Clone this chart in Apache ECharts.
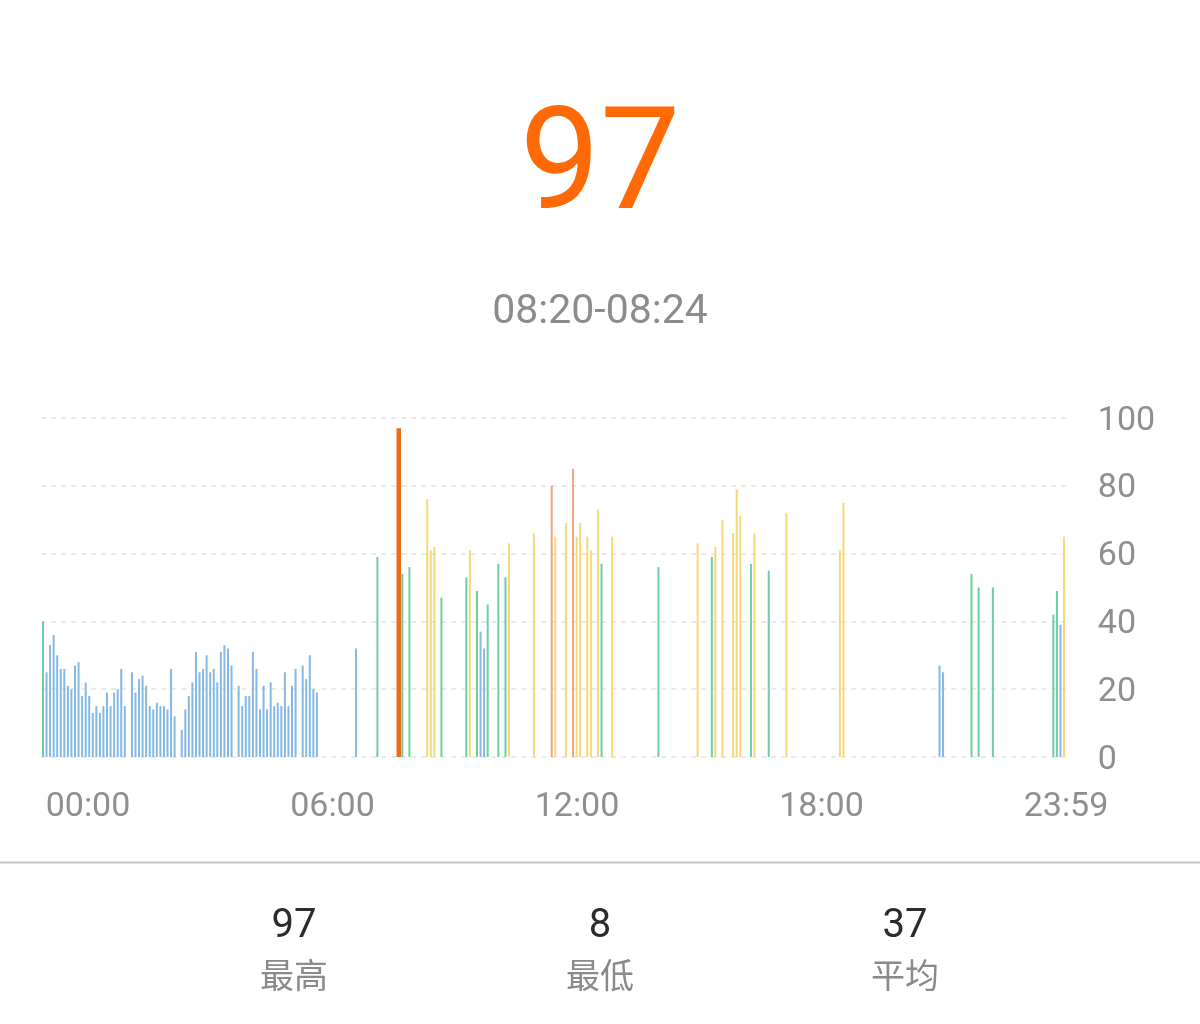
<!DOCTYPE html>
<html>
<head>
<meta charset="utf-8">
<style>
  html, body { margin: 0; padding: 0; background: #fff; }
  #chart { width: 1200px; height: 1024px; }
</style>
<script src="https://cdn.jsdelivr.net/npm/echarts@6/dist/echarts.min.js"></script>
</head>
<body>
<div id="chart"></div>
<script>
// 压力读数，每 5 分钟一格。夜间连续段从 00:00 开始，null 表示无读数
const nightValues = [
  40, 25, 33, 36, 30, 26, 26, 21, 20, 27, 28, 18, 22, 18, 13, 15, 13, 15, 19, 15, 19, 20, 26, 15,
  null, 25, 19, 23, 24, 21, 15, 14, 16, 15, 15, 14, 26, 12,
  null, 8, 14, 18, 22, 31, 25, 26, 30, 25, 26, 22, 31, 33, 32, 27,
  null, 21, 15, 18, 18, 31, 26, 14, 21, 14, 22, 15, 16, 15, 25, 15, 21, 26,
  null, 27, 23, 30, 20, 19,
];

// 白天零散读数
const dayTimes = [
  '07:20', '07:50', '08:20', '08:25', '08:35', '09:00', '09:05', '09:10', '09:20', '09:55',
  '10:00', '10:10', '10:15', '10:20', '10:25', '10:40', '10:50', '10:55', '11:30', '11:55',
  '12:00', '12:15', '12:25', '12:30', '12:35', '12:45', '12:50', '13:00', '13:05', '13:20',
  '14:25', '15:20', '15:40', '15:45', '15:55', '16:10', '16:15', '16:20', '16:35', '16:40',
  '17:00', '17:25', '18:40', '18:45', '21:00', '21:05', '21:45', '21:55', '22:15', '23:40',
  '23:45', '23:50', '23:55',
];
const dayValues = [
  32, 59, 97, 54, 56, 76, 61, 62, 47, 53,
  61, 49, 37, 32, 45, 57, 53, 63, 66, 80,
  65, 69, 85, 65, 69, 65, 61, 73, 57, 65,
  56, 63, 59, 62, 70, 66, 79, 71, 57, 66,
  55, 72, 61, 75, 27, 25, 54, 50, 50, 42,
  49, 39, 65,
];

const selectedTime = '08:20';
const axisTimeLabels = ['00:00', '06:00', '12:00', '18:00', '23:59'];
const statValues = [97, 8, 37];
const statLabels = ['最高', '最低', '平均'];

const FONT = "Roboto, 'Noto Sans CJK SC', sans-serif";

function pad(n) { return n.toString().padStart(2, '0'); }

// 288 个 5 分钟时间格
const slots = [];
for (let m = 0; m < 24 * 60; m += 5) slots.push(`${pad(Math.floor(m / 60))}:${pad(m % 60)}`);

const readings = slots.map(() => null);
nightValues.forEach((v, i) => { readings[i] = v; });
dayTimes.forEach((t, i) => { readings[slots.indexOf(t)] = dayValues[i]; });

function levelColor(v) {
  if (v < 40) return '#86b8e6';
  if (v < 60) return '#6ccf9f';
  if (v < 80) return '#f6d878';
  return '#f2a47c';
}

const selIdx = slots.indexOf(selectedTime);
const selValue = readings[selIdx];
const selEnd = (() => {
  const [h, m] = selectedTime.split(':').map(Number);
  const e = h * 60 + m + 4;
  return `${pad(Math.floor(e / 60))}:${pad(e % 60)}`;
})();

const normalData = readings.map((v, i) => {
  if (v == null || i === selIdx) return '-';
  return { value: v, itemStyle: { color: levelColor(v) } };
});
const selectedData = readings.map((v, i) => (i === selIdx ? v : '-'));

const chart = echarts.init(document.getElementById('chart'));

const statX = [294, 600, 905];
const graphics = [
  {
    type: 'text',
    style: { text: String(selValue), x: 600, y: 172, fill: '#ff6a06', font: `143px ${FONT}`, textAlign: 'center', textVerticalAlign: 'middle' },
  },
  {
    type: 'text',
    style: { text: `${selectedTime}-${selEnd}`, x: 600, y: 313, fill: '#8c8c8c', font: `41px ${FONT}`, textAlign: 'center', textVerticalAlign: 'middle' },
  },
  {
    type: 'line',
    shape: { x1: 0, y1: 862.5, x2: 1200, y2: 862.5 },
    style: { stroke: '#c4c4c4', lineWidth: 2 },
  },
];
statValues.forEach((v, i) => {
  graphics.push({
    type: 'text',
    style: { text: String(v), x: statX[i], y: 927, fill: '#2b2b2b', font: `40px ${FONT}`, textAlign: 'center', textVerticalAlign: 'middle' },
  });
  graphics.push({
    type: 'text',
    style: { text: statLabels[i], x: statX[i], y: 979, fill: '#8a8a8a', font: `34px ${FONT}`, textAlign: 'center', textVerticalAlign: 'middle' },
  });
});

const option = {
  animation: false,
  backgroundColor: '#fff',
  grid: [
    { left: 41.2, right: 134.2, top: 418, height: 339 },
    { left: 88, right: 134, top: 756, height: 1 },
  ],
  xAxis: [
    {
      type: 'category', gridIndex: 0, data: slots,
      axisLine: { show: false }, axisTick: { show: false }, axisLabel: { show: false }, splitLine: { show: false },
    },
    {
      type: 'category', gridIndex: 0, data: slots, show: false,
    },
    {
      type: 'category', gridIndex: 1, data: axisTimeLabels, boundaryGap: false,
      axisLine: { show: false }, axisTick: { show: false }, splitLine: { show: false },
      axisLabel: { show: true, interval: 0, margin: 34, color: '#8f8f8f', fontSize: 34, fontFamily: FONT },
    },
  ],
  yAxis: [
    {
      type: 'value', gridIndex: 0, position: 'right', min: 0, max: 100, interval: 20,
      axisLine: { show: false }, axisTick: { show: false },
      axisLabel: {
        margin: 32, align: 'left',
        formatter: '{v|{value}}',
        rich: { v: { color: '#8f8f8f', fontSize: 34, fontFamily: FONT, padding: [6, 0, 0, 0] } },
      },
      splitLine: { lineStyle: { color: '#e3e3e3', width: 1.5, type: [5, 5] } },
    },
    { type: 'value', gridIndex: 1, show: false },
  ],
  series: [
    {
      type: 'bar', xAxisIndex: 0, yAxisIndex: 0, barWidth: 2,
      data: normalData,
    },
    {
      type: 'bar', xAxisIndex: 1, yAxisIndex: 0, barWidth: 4.5,
      itemStyle: { color: '#ee6a1c' },
      data: selectedData,
    },
  ],
  graphic: graphics,
};

chart.setOption(option);
</script>
</body>
</html>
